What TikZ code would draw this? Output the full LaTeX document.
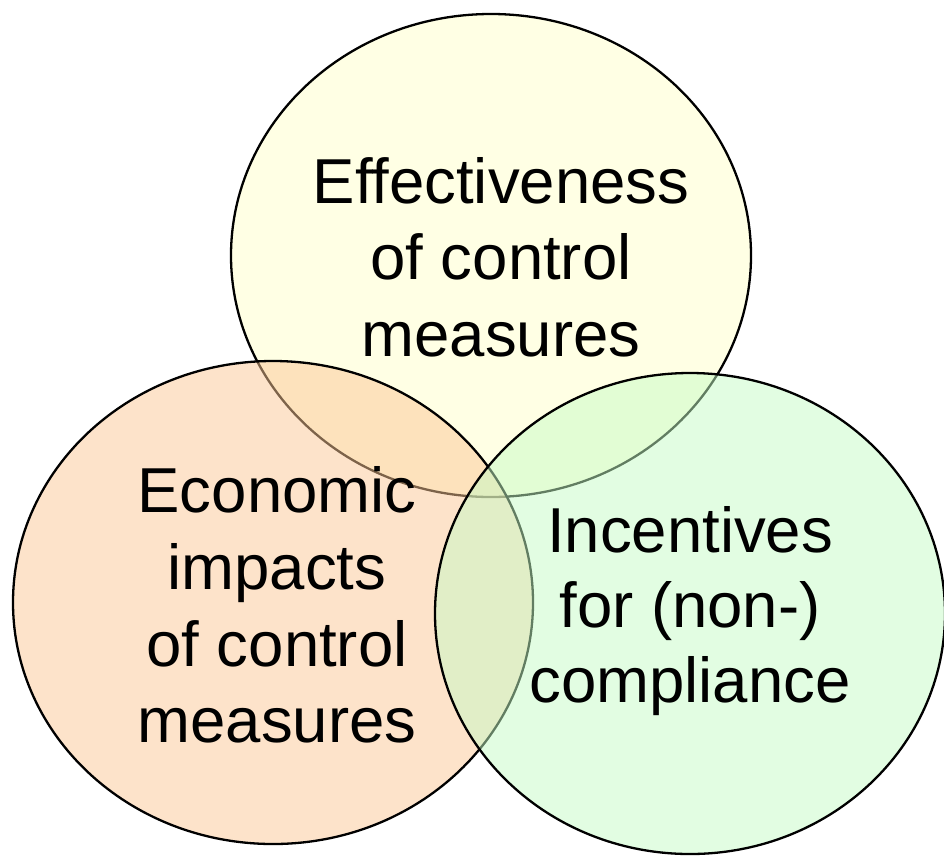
\documentclass[tikz,border=0pt]{standalone}
\usepackage{fontspec}
\setmainfont{Liberation Sans}
\usetikzlibrary{shapes.geometric}
\definecolor{topc}{RGB}{255,255,201}
\definecolor{leftc}{RGB}{251,199,149}
\definecolor{rightc}{RGB}{197,251,197}
\begin{document}
\begin{tikzpicture}[x=1pt,y=-1pt,
  circ/.style={ellipse,draw=black,line width=2.3pt,fill opacity=0.5,inner sep=0pt,outer sep=0pt},
  lbl/.style={align=center,inner sep=0pt,text=black}]
\useasboundingbox (0,0) rectangle (944,855);
\node[circ,fill=topc,minimum width=520pt,minimum height=483pt] (top) at (491,255.5) {};
\node[circ,fill=leftc,minimum width=520pt,minimum height=483pt] (left) at (273,602.5) {};
\node[circ,fill=rightc,minimum width=510pt,minimum height=481pt] (right) at (690,613.5) {};
\node[lbl,font=\fontsize{63.5}{76.5}\selectfont] (ttop) at (501,257) {Effectiveness\\of control\\measures};
\node[lbl,font=\fontsize{63.5}{76.7}\selectfont] (tleft) at (277,605) {Economic\\impacts\\of control\\measures};
\node[lbl,font=\fontsize{63.5}{75}\selectfont] (tright) at (690,611.5) {Incentives\\for (non-)\\compliance};
\end{tikzpicture}
\end{document}
